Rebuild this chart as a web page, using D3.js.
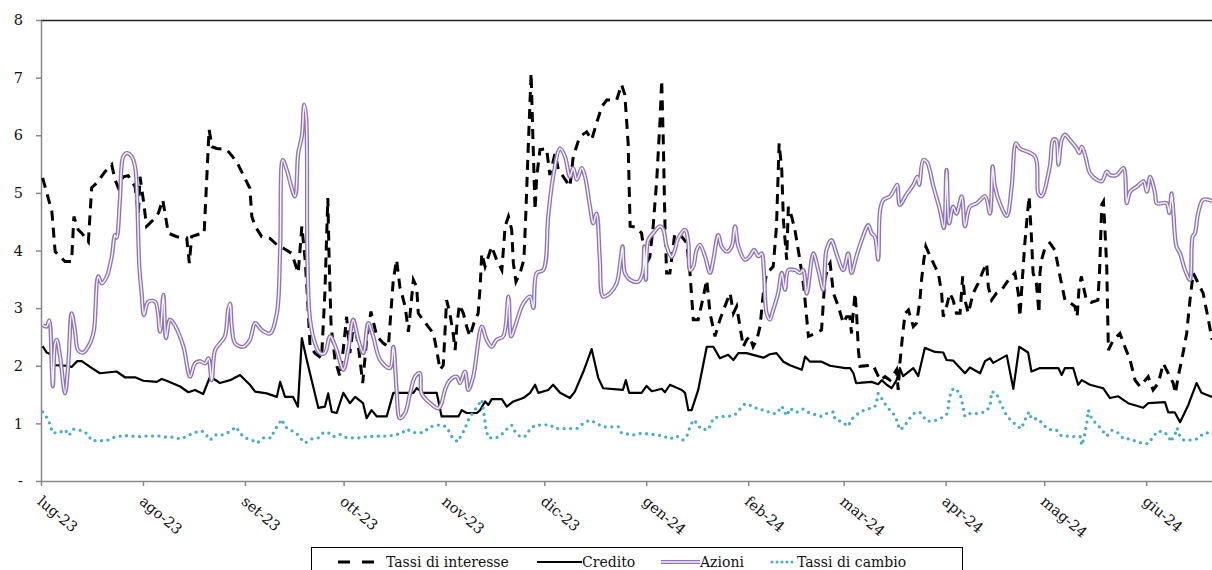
<!DOCTYPE html>
<html>
<head>
<meta charset="utf-8">
<script src="https://cdn.jsdelivr.net/npm/d3@7"></script>
<style>
  body { margin: 0; background: #fff; }
  svg { display: block; font-family: "DejaVu Serif", serif; font-size: 14px; }
</style>
</head>
<body>
<svg id="chart" width="1212" height="570"></svg>
<script>
// Days since 1 July 2023, value
const startDate = Date.UTC(2023, 6, 1);
const endDate = Date.UTC(2024, 5, 21);

const monthLabels = ["lug-23", "ago-23", "set-23", "ott-23", "nov-23", "dic-23",
  "gen-24", "feb-24", "mar-24", "apr-24", "mag-24", "giu-24"];
const yTicks = [0, 1, 2, 3, 4, 5, 6, 7, 8];
const seriesNames = ["Tassi di interesse", "Credito", "Azioni", "Tassi di cambio"];

const tassiInteresse = [[0.5,5.26],[3.3,4.68],[4.3,3.98],[7.3,3.81],[9.3,3.81],[10,4.59],[11.3,4.36],[12.4,4.3],[14.4,4.15],[15.4,5.09],[16.9,5.17],[19.5,5.37],[21.5,5.49],[22.5,5.23],[23.5,5.09],[25,5.28],[26.5,5.3],[28.6,5.11],[29.6,4.62],[30.1,5.28],[31.1,4.88],[32.1,4.42],[34.1,4.53],[35.7,4.65],[37,4.88],[37.7,4.65],[38.7,4.3],[41.3,4.24],[44.3,4.22],[45.1,3.78],[45.8,4.24],[48.9,4.3],[49.6,4.3],[51.1,6.1],[52,5.8],[53.4,5.77],[56.5,5.75],[59.5,5.54],[61.5,5.31],[63.5,5.08],[64.1,4.59],[65.1,4.42],[67.1,4.24],[69.6,4.21],[71.7,4.1],[73.7,4.04],[76.2,3.95],[78.2,3.61],[79.3,4.42],[80.3,3.84],[81,3.2],[81.8,2.33],[83.3,2.22],[85.3,2.13],[86.3,3.26],[87.2,4.91],[87.6,3.84],[88.2,2.68],[89.4,2.1],[90.9,1.81],[92.1,2.39],[92.9,2.85],[93.9,2.22],[95.2,2.8],[96.5,2.33],[97.8,1.7],[99,2.45],[100.3,2.94],[102.1,2.51],[104.1,2.39],[105.6,2.33],[107.1,3.49],[108.1,3.84],[109.1,3.37],[110.7,3.03],[111.7,2.59],[113.2,3.49],[114.2,3.37],[114.7,2.91],[117.7,2.68],[119.3,2.56],[120.3,2.27],[121.3,1.93],[122.3,2.01],[122.8,2.56],[123.3,3.14],[124.3,2.91],[125.3,2.56],[125.9,2.27],[126.4,2.68],[127.2,3.06],[128.4,2.91],[129.4,2.68],[130.4,2.51],[131.6,2.74],[132.9,2.91],[133.5,3.37],[134,3.95],[135,3.72],[136,3.89],[137,4.07],[138.5,3.84],[140.1,3.66],[141.1,4.42],[142.1,4.59],[143.1,4.36],[143.6,3.78],[144.4,3.46],[145.6,3.6],[146.8,3.84],[147.4,4.65],[148.1,5.75],[149,7.08],[149.5,6.04],[150.2,4.7],[150.7,5.28],[151.7,5.75],[153.7,5.77],[154.7,5.31],[156.3,5.69],[157.3,5.4],[158.8,5.28],[160.8,5.11],[161.8,5.63],[163.3,5.89],[164.4,6.0],[165.9,6.06],[167.4,5.92],[168.9,6.21],[170.5,6.5],[172,6.61],[175,6.61],[176.5,6.88],[177.5,6.7],[178.5,5.86],[179.1,4.42],[181.1,4.4],[182.6,4.3],[183.1,4.07],[184.1,3.78],[185.1,3.89],[186.1,4.42],[187.2,5.23],[188.2,6.27],[188.7,6.96],[189.2,5.86],[189.7,4.42],[190.2,3.61],[191.2,3.61],[192.7,4.3],[194.8,4.24],[196.3,4.13],[197.3,3.61],[198.3,2.8],[199.8,2.8],[200.9,3.08],[202.4,3.49],[203.4,2.91],[204.9,2.51],[206.4,2.8],[207.9,3.03],[209.5,3.26],[210.5,2.91],[211.5,3.03],[212.5,2.68],[213.5,2.33],[214.5,2.45],[215.5,2.51],[216.5,2.33],[217.6,2.45],[218.6,2.68],[219.6,3.26],[220.6,3.61],[221.6,3.66],[222.6,3.72],[223.6,4.42],[224.4,5.86],[225.2,5.4],[225.7,4.53],[226.7,3.84],[227.2,4.76],[228.2,4.59],[229.2,4.36],[230.7,3.84],[231.9,3.37],[233.3,2.51],[235.3,2.56],[237.3,2.62],[238.3,3.49],[239.3,3.72],[239.9,3.78],[240.9,3.26],[242.4,3.03],[243.9,2.74],[244.9,2.85],[245.9,2.85],[246.4,2.56],[246.9,2.91],[247.5,3.26],[248,2.85],[248.5,2.27],[249,1.99],[253,2.01],[255.1,1.75],[256.6,1.81],[258.1,1.75],[260.1,1.93],[260.6,1.58],[261.1,2.04],[261.9,2.51],[262.7,2.91],[263.7,2.97],[265.2,2.68],[266.2,2.74],[267.2,3.14],[267.7,3.49],[268.4,3.84],[269,4.07],[270.3,3.9],[271.8,3.72],[272.8,3.61],[273.8,3.26],[274.3,2.85],[275.3,3.03],[276.3,3.26],[277.3,3.14],[278.3,2.91],[279.4,2.91],[280.2,3.55],[280.9,3.14],[281.9,2.91],[283.4,3.26],[284.9,3.43],[286.5,3.66],[287.5,3.78],[288,3.37],[289,3.14],[290.5,3.26],[292.1,3.32],[294.1,3.49],[296.1,3.61],[297.1,3.26],[297.6,2.85],[298.4,3.55],[299.1,4.13],[300.1,4.76],[300.4,4.94],[301.1,4.24],[301.6,3.61],[302.6,3.43],[303.4,2.91],[303.7,3.61],[304.2,3.84],[305.2,4.04],[306.7,4.13],[308.3,4.0],[309.8,3.55],[311.3,3.14],[312.3,3.12],[314.3,3.03],[315,2.85],[315.6,3.37],[316.3,3.55],[316.8,3.4],[317.8,3.14],[319.3,3.1],[321.3,3.14],[321.8,3.61],[322.5,4.8],[323,4.85],[323.5,4.3],[324,3.72],[324.5,2.27],[326,2.45],[328,2.56],[329.5,2.33],[331.1,2.1],[332.6,1.75],[334.1,1.64],[336.6,1.81],[338.1,1.58],[339.7,1.7],[341.2,2.04],[342.7,1.87],[344.2,1.7],[344.9,1.52],[345.7,1.81],[346.8,2.1],[348.3,2.56],[349.3,3.14],[350.3,3.61],[351.8,3.43],[353.3,3.26],[354.9,2.8],[356,2.45]];

const credito = [[0.5,2.34],[1.7,2.23],[2.9,2.2],[3.7,2.01],[7.8,2.0],[9.3,1.98],[11,2.08],[12.4,2.08],[14.9,1.98],[17.9,1.87],[23,1.9],[25.5,1.8],[28.6,1.8],[31.1,1.74],[35.2,1.72],[36.7,1.77],[38.2,1.74],[42.3,1.64],[44.8,1.54],[46.8,1.58],[49.3,1.51],[51.4,1.81],[53.4,1.74],[54.4,1.7],[57.5,1.75],[60.5,1.84],[63.5,1.67],[65.1,1.55],[68.6,1.52],[71.7,1.46],[72.7,1.72],[74.2,1.46],[76.6,1.46],[78.1,1.29],[79.3,2.48],[80.8,2.1],[84.3,1.27],[86.3,1.29],[87.3,1.52],[88.4,1.2],[89.9,1.18],[91.9,1.53],[93.9,1.35],[95.5,1.46],[97.9,1.35],[99,1.09],[100.5,1.23],[102.1,1.12],[105.1,1.12],[107.1,1.53],[113.2,1.53],[114.2,1.61],[116.1,1.53],[120.3,1.53],[121.8,1.12],[126.9,1.12],[127.9,1.23],[129.4,1.18],[132.5,1.18],[133.5,1.23],[135,1.38],[136,1.32],[137,1.42],[140.1,1.42],[141.6,1.29],[143.6,1.38],[146.6,1.44],[148.7,1.53],[150.2,1.67],[151.2,1.53],[154.2,1.58],[155.7,1.67],[157.8,1.53],[160.8,1.44],[162.3,1.55],[164.9,1.9],[167.4,2.29],[169.4,1.79],[170.9,1.61],[176.9,1.58],[177.8,1.75],[178.8,1.53],[182.6,1.53],[184.1,1.65],[185.6,1.56],[186.7,1.57],[188.7,1.6],[189.7,1.54],[191.2,1.67],[194.8,1.58],[195.8,1.53],[196.8,1.23],[197.8,1.23],[199.8,1.58],[202.4,2.33],[204.4,2.33],[204.9,2.28],[206.4,2.13],[208.9,2.19],[210.5,2.1],[212,2.22],[214.5,2.22],[219.6,2.14],[221.6,2.2],[223.6,2.22],[225.7,2.07],[227.7,2.01],[231.3,1.93],[232.3,2.16],[233.8,2.07],[237.3,2.07],[239.9,2.0],[244.5,1.96],[246,1.96],[247,1.87],[247.8,1.7],[252.5,1.72],[254.5,1.68],[255.6,1.75],[257.1,1.67],[258.6,1.61],[260.1,1.75],[261.1,1.96],[262.1,1.82],[265.2,1.96],[266.7,1.82],[268.7,2.31],[271.8,2.24],[274.3,2.23],[275.3,2.1],[277.3,2.09],[280.9,1.87],[282.4,1.97],[285.5,1.87],[287,2.08],[288.5,2.13],[289.5,2.05],[293.6,2.18],[295.6,1.6],[297.4,2.33],[300.1,2.23],[301.1,1.9],[303.7,1.96],[309.3,1.96],[310.3,1.84],[311.3,1.96],[313.8,1.96],[315.3,1.67],[316.4,1.75],[318.9,1.67],[320.9,1.64],[322.9,1.61],[325,1.44],[327.5,1.47],[330.5,1.35],[335.1,1.27],[336.6,1.35],[341.7,1.37],[342.7,1.19],[344.7,1.19],[346.3,1.02],[348.8,1.32],[351.3,1.7],[352.8,1.53],[356,1.46]];

const azioni = [[0.5,2.71],[1.7,2.68],[2.5,2.79],[3.3,1.93],[3.6,1.64],[4.3,2.39],[4.8,2.45],[5.8,2.16],[7.3,1.52],[8.3,2.04],[9.3,2.91],[10.3,2.62],[11.3,2.27],[12.9,2.23],[14.9,2.39],[16.1,2.62],[17.4,3.55],[18.5,3.43],[20,3.55],[21.5,3.89],[22.5,4.27],[23,4.22],[24,4.88],[25,5.63],[26.1,5.69],[27.6,5.63],[28.6,5.45],[29.1,5.11],[29.9,3.72],[30.6,3.26],[31.3,2.88],[32.6,3.11],[34.7,3.11],[36.2,2.59],[37.2,3.23],[38,2.48],[39.2,2.8],[40.7,2.7],[43.3,2.33],[45.3,1.81],[46.8,2.04],[48.3,2.08],[49.9,2.04],[50.9,2.13],[51.9,1.75],[52.9,2.27],[54.4,2.39],[55.9,2.51],[56.9,2.97],[57.5,3.08],[58,2.68],[59,2.39],[61.5,2.33],[63.5,2.45],[65.1,2.74],[67.1,2.62],[69.6,2.56],[71.7,2.91],[72.7,4.01],[73.5,5.57],[74.7,5.4],[77.2,4.94],[78.2,5.69],[79.3,5.98],[80,6.53],[80.6,6.32],[81,3.84],[81.8,2.8],[83.3,2.39],[84.8,2.22],[86.3,2.22],[87.9,2.51],[89.9,2.27],[91.9,1.93],[93.4,2.27],[94.9,2.8],[96.5,2.45],[98,2.22],[99.5,2.74],[101,2.51],[103.1,2.1],[106.1,1.96],[107.1,2.33],[108.1,1.58],[109.1,1.09],[110.7,1.18],[112.2,1.52],[113.7,1.81],[115.2,1.87],[115.7,1.52],[118.3,1.35],[120.8,1.26],[121.8,1.35],[122.8,1.58],[124.3,1.75],[126.4,1.81],[127.4,1.7],[128.9,1.9],[129.9,1.58],[131.4,1.81],[134,2.68],[135.5,2.45],[137,2.33],[138.5,2.45],[140.5,2.51],[142.1,3.2],[142.9,2.51],[144.1,2.68],[146.6,3.08],[148.7,3.2],[149.7,3.0],[150.7,3.61],[152.7,3.66],[154.2,4.59],[155.7,5.28],[157.8,5.77],[159.3,5.63],[160.8,5.28],[161.8,5.43],[162.9,5.23],[164.4,5.43],[165.4,5.28],[166.9,4.76],[167.9,4.47],[168.9,4.64],[169.9,3.84],[170.9,3.2],[173,3.26],[175,3.43],[176.2,3.84],[176.8,4.07],[177.5,3.61],[179.1,3.49],[181.6,3.46],[182.9,3.61],[183.4,4.07],[183.9,3.49],[184.6,4.18],[186.1,4.3],[188.2,4.42],[189.2,4.36],[190.2,4.07],[191.7,3.89],[192.7,4.01],[193.7,4.21],[195.8,4.36],[196.8,4.13],[197.3,3.66],[198.3,3.72],[199.3,4.01],[200.3,4.1],[201.9,3.89],[203.4,3.61],[204.4,3.84],[205.9,4.27],[206.9,4.07],[208.5,3.98],[210,4.07],[211,4.42],[212,4.07],[214,3.84],[215.5,3.9],[216.8,4.01],[218.1,3.9],[219.1,3.95],[219.8,3.61],[220.6,2.91],[221.6,2.8],[222.6,2.97],[224.1,3.26],[225.2,3.61],[226.2,3.32],[227.2,3.66],[229.2,3.66],[230.7,3.61],[231.7,3.66],[232.8,3.25],[234.8,3.95],[236.3,3.66],[237.8,3.32],[238.8,4.01],[240.3,4.18],[241.8,3.95],[243.9,3.66],[245.4,3.95],[246.4,3.61],[247.9,3.9],[249.5,4.18],[251.5,4.44],[252.5,4.3],[253.5,4.24],[254.5,3.84],[255.1,4.7],[256.1,4.88],[258.1,4.94],[259.6,5.08],[260.3,5.14],[261.1,4.79],[263.1,4.97],[265.2,5.14],[266.4,5.28],[267,5.14],[268.2,5.57],[269.3,5.54],[271.3,5.11],[273.3,4.7],[274.5,4.39],[275.3,5.4],[276.1,4.47],[277.3,4.76],[278.3,4.64],[279.9,4.94],[280.9,4.42],[282.4,4.76],[284.5,4.82],[287,4.94],[288.5,4.64],[289.3,5.46],[290,5.11],[291.5,4.82],[293.6,4.6],[295.1,5.11],[296.4,5.86],[297.6,5.77],[302.2,5.63],[303.2,4.99],[304.2,4.94],[306.7,5.46],[307.7,5.92],[308.6,5.92],[309.3,5.49],[310.3,5.92],[311.3,6.01],[312.8,5.92],[314.9,5.77],[315.6,5.69],[316.4,5.8],[317.4,5.66],[318.9,5.34],[320.9,5.23],[322.5,5.2],[324,5.37],[325,5.31],[327,5.31],[329.1,5.43],[330.1,4.82],[331.1,5.02],[333.2,5.11],[335.2,5.2],[336.2,5.02],[337.2,5.28],[338.7,4.99],[339.2,4.82],[342.2,4.82],[343,4.65],[343.7,4.99],[344.2,4.7],[345.2,4.07],[346.3,3.95],[347.8,3.66],[349.3,3.49],[350.1,4.24],[350.8,4.3],[351.8,4.65],[353.3,4.88],[356,4.86]];

const tassiCambio = [[0.5,1.2],[1.9,1.09],[2.9,0.97],[3.4,0.84],[5.3,0.83],[7.3,0.89],[8.5,0.79],[9.8,0.9],[11.9,0.88],[14.1,0.82],[15.4,0.7],[17.9,0.7],[20,0.7],[21.7,0.75],[23,0.77],[25,0.79],[27.1,0.78],[29.6,0.77],[32.1,0.78],[36,0.78],[38.2,0.76],[40.2,0.76],[42.6,0.73],[44.3,0.78],[46.6,0.84],[48.9,0.87],[50.2,0.8],[51.4,0.71],[53.4,0.81],[55.3,0.8],[57.5,0.86],[59.3,0.94],[60.5,0.83],[62,0.75],[64.1,0.71],[65.8,0.66],[67.6,0.75],[70.1,0.75],[70.8,0.86],[71.8,0.95],[73.2,1.07],[74.2,0.94],[75.7,0.89],[77.7,0.83],[78.7,0.75],[80.3,0.66],[82.3,0.73],[84.3,0.75],[85.8,0.84],[87.3,0.84],[88.9,0.77],[90.9,0.81],[92.9,0.75],[97,0.75],[99,0.77],[103.1,0.78],[105.6,0.78],[107.6,0.8],[109.7,0.83],[111.2,0.9],[113.2,0.84],[116.2,0.84],[118.3,0.94],[120.3,0.97],[121.8,0.97],[123.3,0.94],[124.9,0.77],[126.6,0.68],[127.9,0.8],[128.9,0.91],[129.9,1.06],[130.9,1.15],[132.6,1.29],[134,1.41],[134.7,1.15],[135.3,0.89],[136,0.75],[138.5,0.75],[140.5,0.83],[141.6,0.9],[143.1,0.97],[144.1,0.86],[145.6,0.77],[147.1,0.77],[148.7,0.9],[150.2,0.97],[152.2,0.97],[154.7,0.98],[156.3,0.91],[160.8,0.91],[162.9,0.91],[164.9,1.0],[166.9,1.06],[168.9,1.0],[170.9,0.94],[175.5,0.94],[176.5,0.83],[180.1,0.8],[182.6,0.83],[187.2,0.8],[189.2,0.78],[191.2,0.73],[193.3,0.78],[195.1,0.71],[196.5,0.8],[197.3,0.94],[198.3,1.06],[199.5,1.0],[200.6,0.9],[202.9,0.89],[204.4,1.09],[206.4,1.12],[208.9,1.12],[211,1.15],[212.5,1.25],[214,1.34],[216.5,1.3],[218.1,1.24],[220.1,1.23],[222.1,1.17],[223.6,1.17],[225.2,1.3],[226.7,1.13],[227.7,1.26],[229.7,1.19],[231.6,1.25],[233.3,1.19],[234.8,1.16],[237.3,1.12],[238.8,1.17],[240.9,1.2],[241.4,1.07],[243.4,1.03],[245.4,0.95],[246.4,1.07],[249,1.2],[251.5,1.25],[253.5,1.29],[254.2,1.42],[254.5,1.52],[255.6,1.43],[257.1,1.29],[259.1,1.17],[260.1,1.06],[261.1,0.89],[262.4,0.94],[263.7,1.06],[265.7,1.19],[267.2,1.19],[268.2,1.12],[269.3,1.04],[271.3,1.04],[273.3,1.08],[275.3,1.15],[275.8,1.26],[276.1,1.43],[276.9,1.58],[277.9,1.61],[279.4,1.52],[279.9,1.4],[280.4,1.26],[280.9,1.12],[282.4,1.17],[284.5,1.17],[287,1.2],[288.5,1.29],[289,1.55],[290.5,1.52],[291.3,1.4],[292.5,1.26],[293.6,1.13],[295.1,1.04],[297.1,0.94],[298.1,0.91],[299.1,1.06],[300.4,1.2],[301.1,1.08],[303.2,1.08],[304.7,0.97],[306.7,0.89],[308.6,0.89],[310.3,0.78],[312.3,0.78],[314.3,0.77],[315.9,0.77],[316.4,0.62],[316.9,0.71],[317.4,0.83],[317.7,0.94],[318.1,1.06],[318.4,1.23],[319.4,1.08],[320.9,0.99],[322.5,0.89],[324,0.78],[325.6,0.88],[327.6,0.83],[329.1,0.73],[331.1,0.73],[333.2,0.68],[335.2,0.65],[336.7,0.65],[338.1,0.77],[339.5,0.86],[341.3,0.86],[342.9,0.77],[343.4,0.68],[344.9,0.83],[345.4,0.92],[346.2,0.78],[347.4,0.71],[349.5,0.71],[351.5,0.73],[353.5,0.83],[356,0.84]];

const toDate = d => new Date(startDate + d * 864e5);

const svg = d3.select("#chart");
const plotLeft = 41, plotRight = 1212, plotTop = 20, plotBottom = 481;

const x = d3.scaleUtc().domain([new Date(startDate), new Date(endDate)]).range([plotLeft, plotRight]);
const y = d3.scaleLinear().domain([0, 8]).range([plotBottom, plotTop]);

// top border of the plot area
svg.append("line")
  .attr("x1", plotLeft).attr("x2", plotRight).attr("y1", plotTop + 0.5).attr("y2", plotTop + 0.5)
  .attr("stroke", "#222").attr("stroke-width", 1.6);

// y axis
const yAxis = svg.append("g")
  .attr("transform", `translate(${plotLeft},0)`)
  .call(d3.axisLeft(y).tickValues(yTicks).tickSize(5).tickSizeOuter(0).tickPadding(13)
    .tickFormat(d => d === 0 ? "-" : d));
yAxis.select(".domain").attr("stroke", "#888").attr("stroke-width", 1.5);
yAxis.selectAll(".tick line").attr("stroke", "#888").attr("stroke-width", 1.5);
yAxis.selectAll("text").attr("font-family", "DejaVu Serif").attr("font-size", 14.5).attr("fill", "#111");

// x axis with month ticks
const monthStarts = d3.utcMonth.range(new Date(startDate), new Date(endDate));
const xAxis = svg.append("g")
  .attr("transform", `translate(0,${plotBottom})`)
  .call(d3.axisBottom(x).tickValues(monthStarts).tickSize(5).tickSizeOuter(0)
    .tickFormat((d, i) => monthLabels[i]));
xAxis.select(".domain").attr("stroke", "#888").attr("stroke-width", 1.5);
xAxis.selectAll(".tick line").attr("stroke", "#888").attr("stroke-width", 1.5);
xAxis.selectAll("text")
  .attr("font-family", "DejaVu Serif").attr("font-size", 14.5).attr("fill", "#111")
  .attr("text-anchor", "start").attr("x", 0).attr("y", 0).attr("dy", 0)
  .attr("transform", "translate(-5,22) rotate(40)");

// line generators
const line = d3.line().x(d => x(toDate(d[0]))).y(d => y(d[1]));
const smooth = d3.line().x(d => x(toDate(d[0]))).y(d => y(d[1])).curve(d3.curveCatmullRom.alpha(0.5));

const plot = svg.append("g");

// Tassi di interesse: black dashed
plot.append("path").datum(tassiInteresse)
  .attr("d", line).attr("fill", "none")
  .attr("stroke", "#000").attr("stroke-width", 3).attr("stroke-dasharray", "10,7");

// Credito: black solid
plot.append("path").datum(credito)
  .attr("d", line).attr("fill", "none")
  .attr("stroke", "#000").attr("stroke-width", 2.2).attr("stroke-linejoin", "round");

// Azioni: purple double line (smoothed)
plot.append("path").datum(azioni)
  .attr("d", smooth).attr("fill", "none")
  .attr("stroke", "#8d75b6").attr("stroke-width", 4.2);
plot.append("path").datum(azioni)
  .attr("d", smooth).attr("fill", "none")
  .attr("stroke", "#f6f2fb").attr("stroke-width", 1.5);

// Tassi di cambio: teal dotted
plot.append("path").datum(tassiCambio)
  .attr("d", line).attr("fill", "none")
  .attr("stroke", "#4bacc6").attr("stroke-width", 3.3)
  .attr("stroke-linecap", "round").attr("stroke-dasharray", "0,6.5");

// legend
const legend = svg.append("g");
legend.append("rect")
  .attr("x", 311.5).attr("y", 547.5).attr("width", 651).attr("height", 40)
  .attr("fill", "#fff").attr("stroke", "#000").attr("stroke-width", 1);

const legendItems = [
  { name: seriesNames[0], x1: 338, x2: 374, tx: 386 },
  { name: seriesNames[1], x1: 537, x2: 582, tx: 582 },
  { name: seriesNames[2], x1: 661, x2: 700, tx: 700 },
  { name: seriesNames[3], x1: 772, x2: 797, tx: 797 }
];
const ly = 562;
legend.append("line").attr("x1", legendItems[0].x1).attr("x2", legendItems[0].x2)
  .attr("y1", ly).attr("y2", ly).attr("stroke", "#000").attr("stroke-width", 3.2).attr("stroke-dasharray", "12,12");
legend.append("line").attr("x1", legendItems[1].x1).attr("x2", legendItems[1].x2)
  .attr("y1", ly).attr("y2", ly).attr("stroke", "#000").attr("stroke-width", 2.2);
legend.append("line").attr("x1", legendItems[2].x1).attr("x2", legendItems[2].x2)
  .attr("y1", ly).attr("y2", ly).attr("stroke", "#8d75b6").attr("stroke-width", 4.2);
legend.append("line").attr("x1", legendItems[2].x1).attr("x2", legendItems[2].x2)
  .attr("y1", ly).attr("y2", ly).attr("stroke", "#f6f2fb").attr("stroke-width", 1.5);
legend.append("line").attr("x1", legendItems[3].x1).attr("x2", legendItems[3].x2)
  .attr("y1", ly).attr("y2", ly).attr("stroke", "#4bacc6").attr("stroke-width", 3)
  .attr("stroke-linecap", "round").attr("stroke-dasharray", "0,5");

legend.selectAll("text.leg").data(legendItems).join("text")
  .attr("class", "leg")
  .attr("x", d => d.tx).attr("y", 567)
  .attr("fill", "#111").attr("font-size", 14)
  .text(d => d.name);
</script>
</body>
</html>
